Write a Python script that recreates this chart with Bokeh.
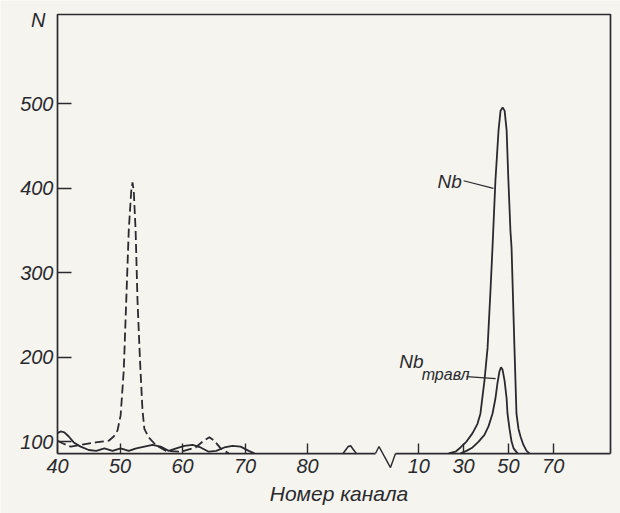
from bokeh.plotting import figure
from bokeh.models import Range1d, LinearAxis, FixedTicker
from bokeh.core.properties import value
from bokeh.embed import file_html
from bokeh.resources import INLINE

# ---------------- data ----------------
y_ticks = [100, 200, 300, 400, 500]
left_ticks = [40, 50, 60, 70, 80]      # channel numbers before the axis break
right_ticks = [10, 30, 50, 70]         # channel numbers after the axis break

# block before the break: dashed spectrum
dash_ch = [40.0, 40.8, 42.1, 43.7, 46.1, 48.2, 49.0, 49.6, 50.1, 50.6,
           51.0, 51.4, 51.8, 52.0, 52.2, 52.5, 52.8, 53.2, 53.6, 53.9,
           54.6, 55.7, 57.3, 59.7, 62.1, 63.4, 64.3, 65.1, 66.1, 67.4]
dash_n = [101, 98, 94, 96, 99, 101, 106, 113, 131, 184,
          267, 350, 397, 407, 397, 350, 267, 196, 137, 115,
          105, 96, 89, 88, 93, 101, 105, 101, 92, 86]

# block before the break: solid background spectrum
solid_ch = [40.0, 40.5, 41.1, 41.8, 42.6, 43.7, 45.0, 46.2, 47.5, 48.8,
            50.1, 51.4, 52.6, 53.9, 55.2, 56.5, 57.8, 59.0, 60.3, 61.6,
            62.9, 64.2, 65.4, 66.7, 68.0, 69.3, 70.6, 71.5]
solid_n = [110, 112, 111, 106, 99, 94, 90, 89, 92, 89,
           92, 89, 92, 94, 96, 94, 89, 92, 95, 96,
           93, 88, 89, 93, 95, 94, 89, 86]

# small isolated peak near channel 87
bump_ch = [85.7, 86.1, 86.5, 86.9, 87.3, 87.8]
bump_n = [86, 90, 94, 95, 91, 86]

# block after the break: Nb
nb_ch = [23.3, 26.4, 28.6, 31.3, 34.0, 36.2, 37.5, 39.3, 40.7, 42.0,
         42.9, 44.2, 45.6, 46.5, 47.4, 48.3, 49.2, 50.0, 50.9, 51.4,
         52.7, 53.6, 54.5, 55.4, 56.7, 58.1, 59.4]
nb_n = [86, 88, 93, 100, 110, 121, 133, 172, 211, 279,
        330, 409, 469, 492, 496, 492, 469, 409, 350, 330,
        211, 133, 115, 106, 96, 89, 86]

# block after the break: Nb etched (травл)
nbt_ch = [28.6, 31.3, 34.0, 36.7, 39.3, 41.1, 42.9, 44.2, 45.1, 46.0,
          46.7, 47.4, 48.3, 49.2, 49.6, 50.5, 51.4, 52.3, 54.1]
nbt_n = [86, 89, 93, 100, 108, 118, 133, 151, 169, 183,
         188, 185, 172, 151, 133, 115, 100, 92, 86]

# ---------------- layout / style ----------------
INK = "#2a2a2e"
BG = "#f6f4ee"
FONT = "Liberation Sans"

# the frame covers the whole canvas; the drawn box sits inside it
FULL_X = (30.88, 130.08)             # left block channel scale over the canvas
FULL_R = (-176.74, 100.04)           # right block channel scale over the canvas
FULL_Y = (14.77, 622.59)
X_START, X_END = 40.0, 128.48        # box edges (left block units)
Y_TOP = 606.0
BASE = 85.8                          # level of the drawn base line
BREAK_X = [90.88, 91.44, 93.28, 94.08]
BREAK_Y = [BASE, 94.1, 69.2, BASE]
N_POS = 599

p = figure(width=620, height=513,
           x_range=Range1d(*FULL_X), y_range=Range1d(*FULL_Y),
           x_axis_type=None, y_axis_type=None,
           output_backend="svg", toolbar_location=None,
           min_border=0)
p.extra_x_ranges = {"right": Range1d(*FULL_R)}
p.outline_line_color = None
p.background_fill_color = BG
p.border_fill_color = BG


def style(ax, size="20px"):
    ax.major_label_text_font = FONT
    ax.major_label_text_font_style = "italic"
    ax.major_label_text_font_size = size
    ax.major_label_text_color = INK
    ax.axis_line_color = INK
    ax.axis_line_width = 1.7
    ax.major_tick_line_color = INK
    ax.major_tick_line_width = 1.4
    ax.minor_tick_line_color = None
    ax.major_tick_out = 0


# bottom axes (drawn on the base line)
xl = LinearAxis(ticker=FixedTicker(ticks=left_ticks), fixed_location=BASE,
                bounds=(X_START, FULL_X[1]))
style(xl)
xl.axis_line_color = None
xl.major_tick_in = 10
xl.major_label_standoff = 5
xl.axis_label = "Номер канала"
xl.axis_label_text_font = FONT
xl.axis_label_text_font_style = "italic"
xl.axis_label_text_font_size = "21px"
xl.axis_label_text_color = INK
xl.axis_label_standoff = 6
p.add_layout(xl, "below")

xr = LinearAxis(x_range_name="right", ticker=FixedTicker(ticks=right_ticks), fixed_location=BASE)
style(xr)
xr.axis_line_color = None
xr.major_tick_in = 10
xr.major_label_standoff = 5
p.add_layout(xr, "below")

# left axis: ticks and labels (its line is the left side of the box below)
yl = LinearAxis(ticker=FixedTicker(ticks=y_ticks), fixed_location=X_START)
style(yl)
yl.axis_line_color = None
yl.major_tick_in = 14
yl.major_label_standoff = 4
p.add_layout(yl, "left")

yn = LinearAxis(ticker=FixedTicker(ticks=[N_POS]), fixed_location=X_START,
                major_label_overrides={N_POS: "N"})
style(yn, "20px")
yn.axis_line_color = None
yn.major_tick_line_color = None
yn.major_tick_in = 0
yn.major_label_standoff = 12
p.add_layout(yn, "left")

# box: left, top and right sides as one path; base line with the break
p.line([X_START, X_START, X_END, X_END], [BASE, Y_TOP, Y_TOP, BASE],
       line_color=INK, line_width=1.7)
p.line([X_START, BREAK_X[0]], [BASE, BASE], line_color=INK, line_width=1.7)
p.line(BREAK_X, BREAK_Y, line_color=INK, line_width=1.4)
p.line([BREAK_X[-1], X_END], [BASE, BASE], line_color=INK, line_width=1.7)

# curves
p.line(dash_ch, dash_n, line_color=INK, line_width=1.8, line_dash="9 4")
p.line(solid_ch, solid_n, line_color=INK, line_width=1.8)
p.line(bump_ch, bump_n, line_color=INK, line_width=1.6)
p.line(nb_ch, nb_n, line_color=INK, line_width=1.8, x_range_name="right")
p.line(nbt_ch, nbt_n, line_color=INK, line_width=1.8, x_range_name="right")

# labels with leaders
p.text(x=[29.2], y=[408], text=["Nb"], text_align="right", text_baseline="middle",
       text_font=value(FONT), text_font_style="italic", text_font_size="19px",
       text_color=INK, x_range_name="right")
p.segment(x0=[30.0], y0=[409], x1=[43.3], y1=[400], line_color=INK, line_width=1.2,
          x_range_name="right")
p.text(x=[12.1], y=[195], text=["Nb"], text_align="right", text_baseline="middle",
       text_font=value(FONT), text_font_style="italic", text_font_size="19px",
       text_color=INK, x_range_name="right")
p.text(x=[11.3], y=[180], text=["травл"], text_align="left", text_baseline="middle",
       text_font=value(FONT), text_font_style="italic", text_font_size="16px",
       text_color=INK, x_range_name="right")
p.segment(x0=[31.3], y0=[177], x1=[44.3], y1=[174.5], line_color=INK, line_width=1.2,
          x_range_name="right")

open("out.html", "w").write(file_html(p, INLINE))
